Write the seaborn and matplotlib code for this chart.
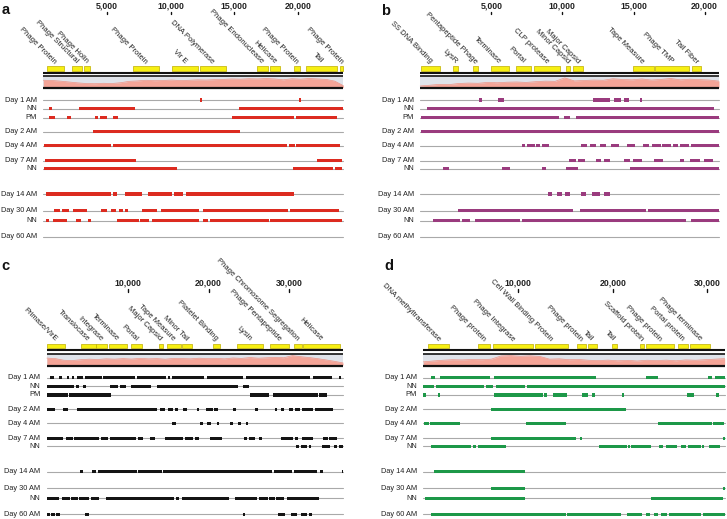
import matplotlib
matplotlib.use("Agg")
import matplotlib.pyplot as plt
import seaborn as sns
import numpy as np

sns.set_theme(style="white")
plt.rcParams['font.family'] = ['Liberation Sans', 'DejaVu Sans']

# ---------------- DATA ----------------
row_labels = ["Day 1 AM", "NN", "PM", "Day 2 AM", "Day 4 AM", "Day 7 AM", "NN",
              "Day 14 AM", "Day 30 AM", "NN", "Day 60 AM"]

# panel a
len_a = 23550
ticks_a = [5000, 10000, 15000, 20000]
genes_a = [(262, 1623), (2224, 3062), (3219, 3664), (7013, 9081), (10128, 12169),
           (12300, 14341), (16775, 17640), (17770, 18580), (19680, 20125),
           (20596, 23082), (23292, 23550)]
gene_names_a = ["Phage Protein", "Phage Structural", "Phage Holin", "Phage Protein",
                "Vir E", "DNA Polymerase", "Phage Endonuclease", "Helicase",
                "Phage Protein", "Tail", "Phage Protein"]
cov_a = [0.68, 0.66, 0.6, 0.52, 0.44, 0.38, 0.36, 0.4, 0.38, 0.45, 0.58, 0.62, 0.68,
         0.64, 0.66, 0.7, 0.65, 0.68, 0.72, 0.7, 0.74, 0.76, 0.8, 0.78, 0.82, 0.8,
         0.84, 0.8, 0.72, 0.82, 0.78, 0.84, 0.8, 0.76, 0.6, 0.18]
tracks_a = [
    [(12300, 12460), (20100, 20260)],
    [(419, 654), (2826, 7197), (15388, 23553)],
    [(419, 942), (1832, 2146), (4056, 4266), (4423, 4972), (5496, 5862),
     (14786, 19706), (19811, 23082)],
    [(3925, 15440)],
    [(78, 5286), (5496, 19104), (19287, 19732), (19863, 23290)],
    [(131, 7275), (21512, 23422)],
    [(78, 10520), (19575, 22715), (22900, 23422)],
    [(183, 5286), (5496, 5810), (6412, 7720), (8244, 10075), (10285, 10990),
     (11175, 19680)],
    [(864, 1308), (1492, 2015), (2355, 3428), (4500, 4972), (5312, 5705),
     (5940, 6228), (6385, 6647), (7720, 8950), (9238, 12247), (12510, 19235),
     (19392, 23213)],
    [(183, 445), (785, 1884), (2565, 2957), (3480, 3742), (5810, 7510),
     (7615, 8270), (8530, 12247), (12560, 12928), (13085, 17690), (17770, 23422)],
    [],
]

# panel b
len_b = 21010
ticks_b = [5000, 10000, 15000, 20000]
genes_b = [(56, 1392), (2332, 2681), (3690, 4088), (4978, 6268), (6737, 7792),
           (8026, 9831), (10229, 10557), (10768, 11424), (14940, 16417),
           (16511, 18925), (19136, 19745)]
gene_names_b = ["SS DNA Binding", "LysR", "Pentapeptide Phage", "Terminase", "Portal",
                "CLP protease", "Minor Capsid", "Major Capsid", "Tape Measure",
                "Phage TMP", "Tail Fiber"]
cov_b = [0.15, 0.22, 0.3, 0.28, 0.38, 0.42, 0.4, 0.48, 0.45, 0.5, 0.52, 0.48, 0.55,
         0.6, 0.58, 0.9, 0.62, 0.66, 0.7, 0.68, 0.82, 0.75, 0.72, 0.8, 0.7, 0.76,
         0.84, 0.72, 0.78, 0.74, 0.7, 0.6]
tracks_b = [
    [(4135, 4369), (5471, 5893), (12151, 13323), (13628, 14144), (14331, 14659),
     (15433, 15620)],
    [(478, 20637)],
    [(80, 9760), (10112, 10511), (10979, 21012)],
    [(80, 21012)],
    [(7182, 7393), (7534, 8096), (8166, 8448), (8565, 9034), (11331, 11729),
     (11917, 12386), (12667, 13089), (13440, 13980), (14566, 15081), (15667, 16089),
     (16324, 16956), (17027, 17660), (17777, 18128), (18246, 18902), (19019, 21012)],
    [(10464, 10932), (11096, 11565), (12339, 12737), (12948, 13370), (14308, 14730),
     (14964, 15597), (16441, 17074), (18246, 18527), (18949, 19699), (19933, 20590)],
    [(1603, 2025), (5752, 6338), (8588, 8823), (10229, 11096), (14730, 21012)],
    [(8987, 9268), (9643, 9995), (10159, 10557), (11331, 11636), (12058, 12620),
     (12925, 13370)],
    [(2658, 10745), (11261, 15855), (16019, 21012)],
    [(900, 2775), (2939, 3478), (3877, 6995), (7159, 18715), (19019, 21012)],
    [],
]

# panel c
len_c = 36650
ticks_c = [10000, 20000, 30000]
genes_c = [(0, 2240), (4220, 6035), (6075, 7396), (7685, 9954), (10408, 11810),
           (13870, 14326), (14904, 16554), (16760, 17915), (20596, 21421),
           (23484, 26783), (27608, 30000), (30578, 31527), (31733, 36270)]
gene_names_c = ["Primase/VirE", "Translocase", "Integrase", "Terminase", "Portal",
                "Major Capsid", "Tape Measure", "Minor Tail", "Platelet Binding",
                "Lysin", "Phage Pentapeptide", "Phage Chromosome Segregation",
                "Helicase"]
cov_c = [0.65, 0.6, 0.45, 0.42, 0.5, 0.55, 0.52, 0.58, 0.55, 0.6, 0.56, 0.62, 0.58,
         0.6, 0.55, 0.62, 0.6, 0.58, 0.64, 0.6, 0.62, 0.58, 0.66, 0.62, 0.7, 0.64,
         0.68, 0.72, 0.68, 0.88, 0.78, 0.7, 0.6, 0.48, 0.35, 0.2]
tracks_c = [
    [(384, 879), (1539, 1869), (2446, 2735), (3065, 3312), (3766, 4509), (4715, 6777),
     (6984, 10902), (11109, 14739), (14945, 15234), (15440, 19441), (19771, 24226),
     (24639, 32559), (32971, 35240), (36189, 36436)],
    [(0, 3354), (3601, 3931), (4426, 4839), (7809, 8840), (9046, 9789),
     (10366, 12841), (13666, 23690), (24226, 25051)],
    [(0, 2652), (2776, 7932), (25134, 27526), (27939, 33590), (33714, 34621)],
    [(0, 1002), (1951, 2570), (3766, 13584), (13996, 14615), (14945, 15564),
     (15852, 16265), (16801, 17296), (18534, 18864), (19689, 20514), (20679, 21215),
     (23071, 23401), (25752, 26164), (28227, 28516), (28970, 29341), (29919, 30496),
     (30661, 31321), (31527, 32971), (33177, 35446)],
    [(15440, 15935), (18946, 19276), (19854, 20266), (21091, 21339), (22659, 22989),
     (23690, 23979), (24597, 24845)],
    [(0, 1951), (2364, 3189), (3354, 6489), (6654, 7602), (7809, 11026),
     (11315, 11851), (12759, 13377), (14615, 16801), (17090, 18039), (18327, 18864),
     (20184, 21627), (24432, 24804), (25051, 25752), (26289, 26577), (28929, 30414),
     (30702, 31032), (31527, 32971), (34126, 34828), (34951, 35859)],
    [(30826, 31197), (31404, 32146), (32476, 32724), (34002, 35034), (35529, 35859),
     (36189, 36601)],
    [(4096, 4509), (5540, 6076), (6365, 11109), (11232, 14244), (14409, 27815),
     (28104, 30290), (30579, 33384), (33796, 34209), (36477, 36600)],
    [],
    [(0, 1539), (1827, 2859), (2982, 3890), (4014, 5251), (5416, 6489),
     (7314, 15729), (15976, 16306), (16677, 22576), (23319, 25959), (26206, 27402),
     (27526, 28269), (28351, 29341), (29754, 33714)],
    [(0, 384), (507, 1002), (1126, 1621), (4756, 5210), (24226, 24556),
     (28640, 29465), (30166, 30909), (31445, 32229), (32476, 32847)],
]

# panel d
len_d = 31820
ticks_d = [10000, 20000, 30000]
genes_d = [(528, 2746), (5808, 7040), (7392, 11616), (11792, 15242), (16262, 17142),
           (17354, 18304), (19958, 20416), (22915, 23302), (23514, 26506),
           (26858, 27984), (28195, 30307)]
gene_names_d = ["DNA methyltransferase", "Phage protein", "Phage Integrase",
                "Cell Wall Binding Protein", "Phage protein", "Tail", "Tail",
                "Scaffold protein", "Phage protein", "Portal protein", "Phage terminase"]
cov_d = [0.3, 0.38, 0.45, 0.5, 0.48, 0.52, 0.5, 0.55, 0.85, 0.88, 0.82, 0.86, 0.8,
         0.55, 0.58, 0.5, 0.52, 0.45, 0.42, 0.46, 0.4, 0.44, 0.38, 0.45, 0.42, 0.46,
         0.4, 0.48, 0.45, 0.5, 0.55, 0.6]
tracks_d = [
    [(845, 1267), (1725, 7005), (7462, 18269), (23549, 24781), (30061, 30518),
     (30835, 31821)],
    [(0, 1091), (1373, 6406), (6653, 7357), (7638, 10701), (10947, 31821)],
    [(0, 317), (1584, 1795), (7462, 12637), (12742, 13094), (13693, 15206),
     (16790, 17389), (17776, 18163), (20944, 21155), (27878, 28582), (30941, 31222)],
    [(7181, 21437)],
    [(70, 563), (669, 3309), (3379, 3837), (10877, 15030), (24781, 30518),
     (30589, 31715)],
    [(7181, 16157), (16509, 16755), (31645, 31821)],
    [(774, 5069), (5245, 5597), (5773, 8765), (18515, 21507), (21648, 21789),
     (21965, 24077), (24886, 25309), (25590, 26787), (27174, 27702), (27949, 29357),
     (29462, 29603), (30166, 31363)],
    [(1126, 10771)],
    [(7181, 10771), (31645, 31821)],
    [(211, 10771), (24077, 31645)],
    [(845, 15101), (15171, 20838), (21507, 23126), (23549, 23901), (24358, 24781),
     (25133, 25766), (25942, 29357), (29533, 31821)],
]

colors = {"a": "#dc2b20", "b": "#9a3b7e", "c": "#141414", "d": "#1d9848"}

# ---------------- LAYOUT ----------------
W, H = 727, 519
fig = plt.figure(figsize=(W / 100, H / 100), dpi=100)

row_y = [100, 108.7, 117.5, 131.7, 145.7, 160.7, 168.7, 194, 210.7, 220.7, 236.7]

panels = [
    # key, x0 px of bp 0, px per bp, y offset, length, ticks, genes, names, cov, tracks
    ("a", 43.3, 63.7 / 5000, 0.0, len_a, ticks_a, genes_a, gene_names_a, cov_a, tracks_a),
    ("b", 420.2, 71.1 / 5000, 0.0, len_b, ticks_b, genes_b, gene_names_b, cov_b, tracks_b),
    ("c", 46.9, 80.8 / 10000, 277.5, len_c, ticks_c, genes_c, gene_names_c, cov_c, tracks_c),
    ("d", 423.3, 94.7 / 10000, 277.5, len_d, ticks_d, genes_d, gene_names_d, cov_d, tracks_d),
]

for key, x0, s, yo, L, ticks, genes, names, cov, tracks in panels:
    ax = fig.add_axes([0, 0, 1, 1])
    col = colors[key]

    # coverage profile
    pos = np.linspace(0, L, len(cov))
    band_top, band_bot = 76.8 + yo, 87.6 + yo
    ax.fill_between([0, L], band_top, band_bot, color="#dfe3ea", lw=0)
    top = band_bot - np.array(cov) * (band_bot - band_top)
    ax.fill_between(pos, band_bot, top, color="#f4a497", lw=0)
    sns.lineplot(x=pos, y=top, ax=ax, color="#ee9385", lw=0.5, legend=False)

    # black frame lines
    ax.plot([0, L], [72.6 + yo] * 2, color="#111111", lw=1.5, solid_capstyle="butt")
    ax.plot([0, L], [76.2 + yo] * 2, color="#111111", lw=1.2, solid_capstyle="butt")
    ax.plot([0, L], [88.2 + yo] * 2, color="#111111", lw=1.6, solid_capstyle="butt")

    # genes
    ax.broken_barh([(g0, g1 - g0) for g0, g1 in genes], (66 + yo, 4.8),
                   facecolors="#f6ef12", edgecolors="#bfae00", linewidth=0.5)
    for (g0, g1), nm in zip(genes, names):
        ax.text((g0 + g1) / 2, 62.5 + yo, nm, rotation=-45, rotation_mode="anchor",
                ha="right", va="center", fontsize=5.5, color="#222222")

    # ruler
    for t in ticks:
        ax.plot([t, t], [11.5 + yo, 14.3 + yo], color="#111111", lw=1.0)
        ax.text(t, 5.5 + yo, f"{t:,}", ha="center", va="center", fontsize=6.3,
                fontweight="bold", color="#222222")

    # tracks
    xlab = -6.5 / s
    for lab, y, segs in zip(row_labels, row_y, tracks):
        yy = y + yo
        ax.plot([0, L], [yy, yy], color="#a9a9a9", lw=0.8, zorder=1)
        if segs:
            ax.broken_barh([(a0, a1 - a0) for a0, a1 in segs], (yy - 1.6, 3.2),
                           facecolors=col, edgecolors="none", zorder=2)
        ax.text(xlab, yy, lab, ha="right", va="center", fontsize=5.3, color="#222222")

    ax.set_xlim(-x0 / s, (W - x0) / s)
    ax.set_ylim(H, 0)
    ax.axis("off")

# panel letters
for lab, x, y in [("a", 1.7, 13.5), ("b", 381, 15), ("c", 1.7, 269.5), ("d", 384.5, 270)]:
    fig.text(x / W, 1 - y / H, lab, fontsize=10.5, fontweight="bold", ha="left",
             va="baseline", color="#111111")

fig.savefig("out.png", dpi=100)
